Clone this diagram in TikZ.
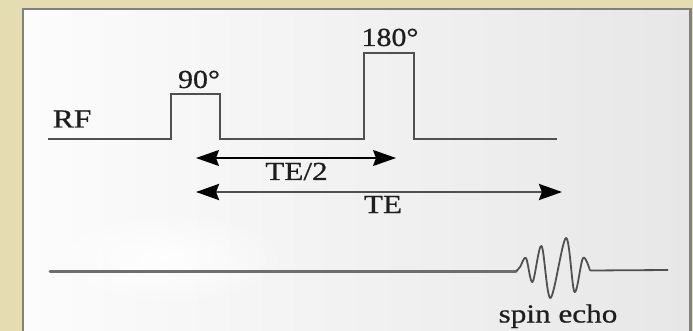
\documentclass[tikz,border=0pt]{standalone}
\usepackage{fontspec}
\setmainfont{Liberation Serif}
\newfontfamily\labelfont[FakeBold=0.6]{Liberation Serif}
\usepackage{graphicx}
\usetikzlibrary{arrows.meta,fadings}

\definecolor{paper}{RGB}{229,221,178}
\definecolor{panelL}{RGB}{252,252,252}
\definecolor{panelR}{RGB}{231,231,231}
\definecolor{frame}{RGB}{128,128,128}
\definecolor{ink}{RGB}{30,30,30}
\definecolor{trace}{RGB}{80,80,80}
\definecolor{axisgray}{RGB}{110,110,110}

\tikzfading[name=softblob, inner color=transparent!0, outer color=transparent!100]

\begin{document}
\begin{tikzpicture}[x=1pt, y=-1pt,
  lbl/.style={anchor=base, text=ink, inner sep=0pt, font=\labelfont\fontsize{26}{30}\selectfont},
  rfline/.style={draw=trace, line width=1.8pt, line join=miter},
  sigline/.style={draw=axisgray, line width=2.8pt, line cap=round},
  echoline/.style={draw=trace, line width=1.8pt, line join=round},
  dimarrow/.style={draw=black, line width=1.6pt,
    >={Stealth[length=23pt,width=16pt,inset=3pt,color=black]}, <->},
  longarrow/.style={dimarrow, draw=trace, line width=2.8pt}]

  \useasboundingbox (0,0) rectangle (693,331);

  % textured paper backdrop and the slide panel
  \fill[paper] (0,0) rectangle (693,331);
  \shade[left color=panelL, right color=panelR] (23,9) rectangle (690.5,345);
  \fill[white, path fading=softblob, opacity=0.9] (165,258) ellipse (125 and 48);
  \draw[frame, line width=2.2pt] (23,345) -- (23,9) -- (690.5,9) -- (690.5,345);

  % RF pulse train: 90 degree and 180 degree pulses
  \coordinate (rfstart) at (48,139);
  \coordinate (rfend) at (557,139);
  \draw[rfline] (rfstart) -- (170.7,139) -- (170.7,94) -- (220,94) -- (220,139)
     -- (364.3,139) -- (364.3,52.7) -- (414.3,52.7) -- (414.3,139) -- (rfend);

  \node[lbl, anchor=base west] (rf) at (52.5,127.5) {\scalebox{1.22}[1]{RF}};
  \node[lbl] (p90) at (199,88) {\scalebox{1.15}[1]{90°}};
  \node[lbl] (p180) at (390,46) {\scalebox{1.15}[1]{180°}};

  % echo-time markers
  \coordinate (te2L) at (196,158);
  \coordinate (te2R) at (396,158);
  \coordinate (teL) at (196,192);
  \coordinate (teR) at (562,192);
  \draw[dimarrow] (te2L) -- (te2R);
  \draw[longarrow] (teL) -- (teR);
  \node[lbl] (te2) at (296.5,180) {\scalebox{1.2}[1]{TE/2}};
  \node[lbl] (te) at (383,213) {\scalebox{1.2}[1]{TE}};

  % received signal with the spin echo
  \coordinate (sigstart) at (50,271.5);
  \coordinate (echostart) at (516,271.5);
  \coordinate (echoend) at (590,270.5);
  \coordinate (sigend) at (668,270);
  \draw[sigline] (sigstart) -- (echostart);
  \draw[echoline] plot[smooth, tension=0.55] coordinates
    {(echostart) (520,267) (526,258) (532.5,282) (541.5,246) (550.5,298)
     (566,238) (574.5,292) (583,258) (echoend)};
  \draw[echoline] (echoend) -- (sigend);
  \node[lbl] (echo) at (558,322.5) {\scalebox{1.2}[1]{spin echo}};
\end{tikzpicture}
\end{document}
